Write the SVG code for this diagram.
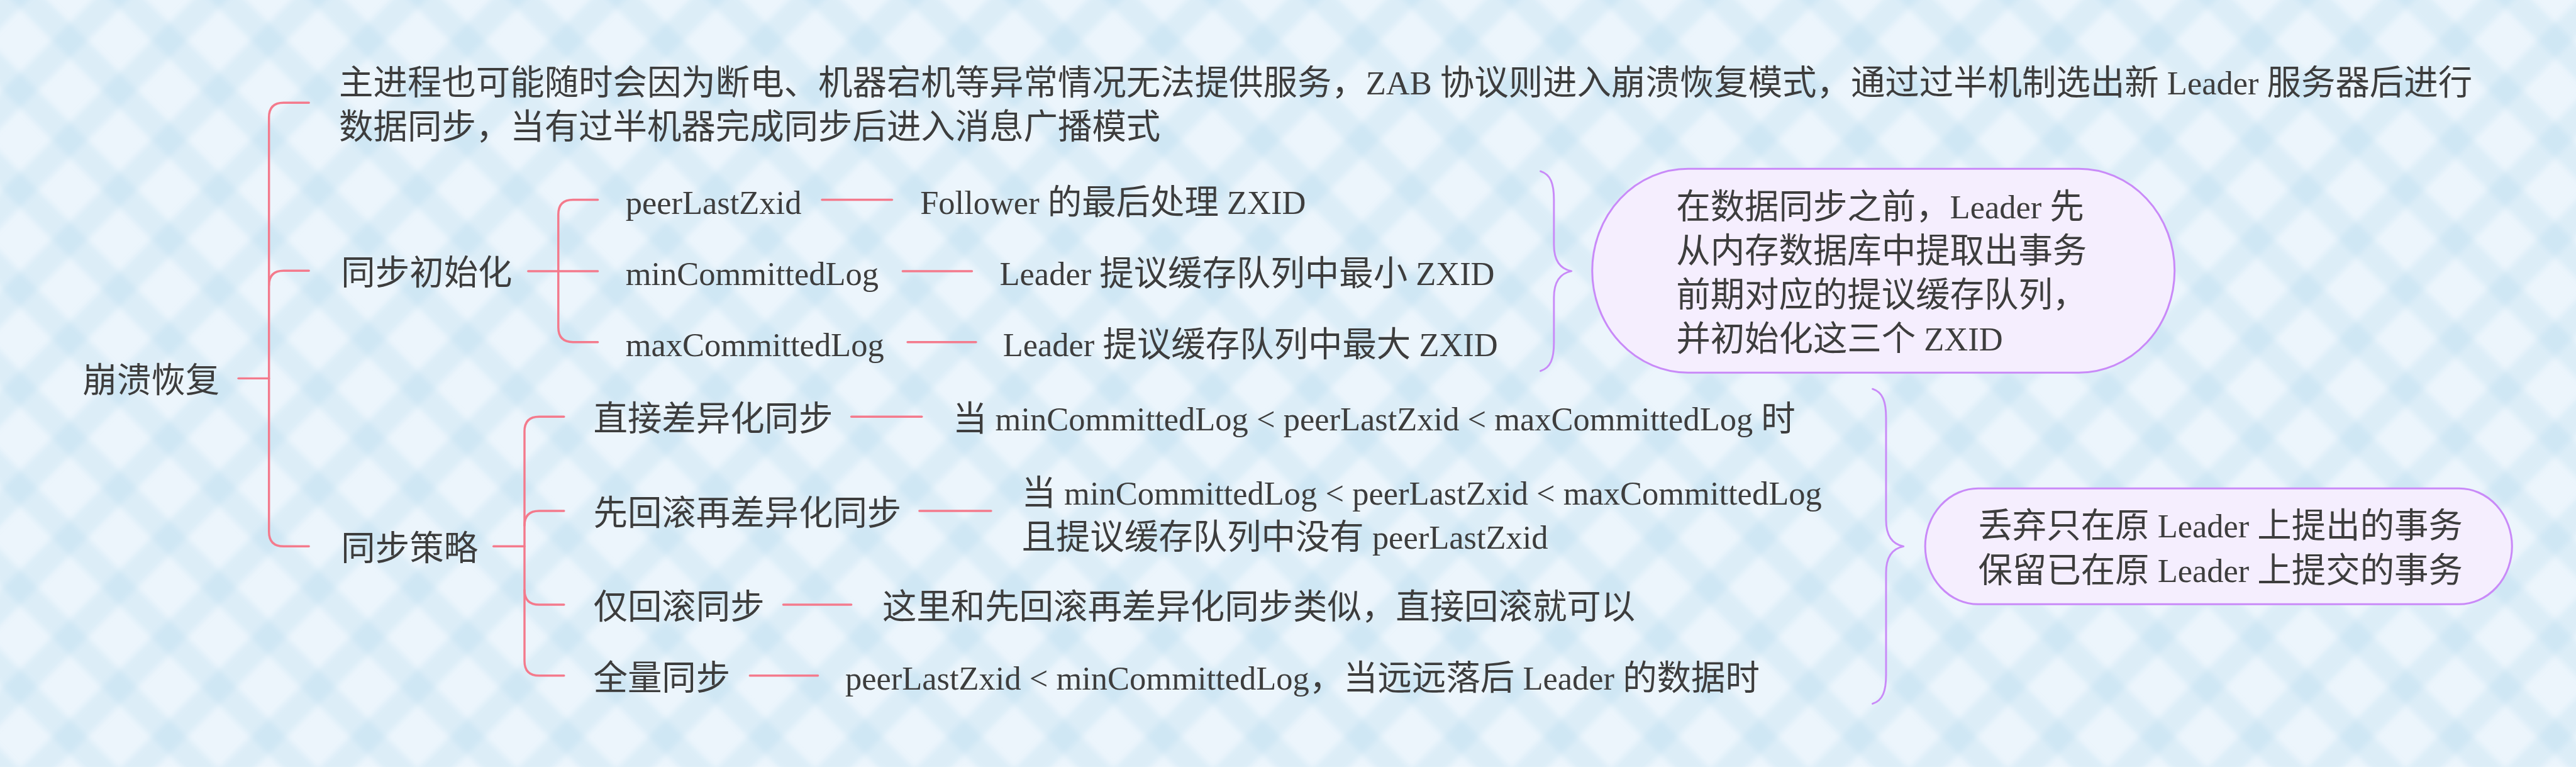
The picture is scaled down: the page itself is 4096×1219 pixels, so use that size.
<svg xmlns="http://www.w3.org/2000/svg" width="4096" height="1219" viewBox="0 0 4096 1219">
<style>
.t { font-family: "Liberation Serif", "Noto Sans CJK SC", serif; font-size: 84px; fill: #3d3d3d; }
.l { font-size: 81px; }
.br { fill: none; stroke: #F47A8C; stroke-width: 5.3; stroke-linecap: round; stroke-linejoin: round; }
.pu { fill: none; stroke: #C98AF8; stroke-width: 4.5; stroke-linecap: round; stroke-linejoin: round; }
.box { fill: #F5EEFE; stroke: #C98AF8; stroke-width: 4.7; }
</style>
<defs>
<pattern id="plaid" patternUnits="userSpaceOnUse" width="172.5" height="172.5" patternTransform="translate(49,1441) rotate(45) translate(-86.25,-86.25)">
<rect x="55.75" y="0" width="61" height="172.5" fill="#A0D2EB" fill-opacity="0.21"/>
<rect x="0" y="55.75" width="172.5" height="61" fill="#A0D2EB" fill-opacity="0.21"/>
</pattern>
<filter id="soft" x="-0.05" y="-0.05" width="1.1" height="1.1"><feGaussianBlur stdDeviation="7"/></filter>
</defs>
<g transform="scale(0.648)">
<g id="background">
<rect x="0" y="0" width="6322" height="1881" fill="#ECF5FC"/>
<rect x="-100" y="-100" width="6522" height="2081" fill="url(#plaid)" filter="url(#soft)"/>
</g>
<g id="connectors">
<path class="br" d="M585,928 H660"/>
<path class="br" d="M758,252 H696 Q660,252 660,288 V1304 Q660,1340 696,1340 H758"/>
<path class="br" d="M660,700 Q660,664 696,664 H758"/>
<path class="br" d="M1296,665 H1467"/>
<path class="br" d="M1467,490 H1406 Q1370,490 1370,526 V803 Q1370,839 1406,839 H1467"/>
<path class="br" d="M1211,1340 H1287"/>
<path class="br" d="M1384,1022 H1323 Q1287,1022 1287,1058 V1621 Q1287,1657 1323,1657 H1384"/>
<path class="br" d="M1287,1289 Q1287,1253 1323,1253 H1384"/>
<path class="br" d="M1287,1447 Q1287,1483 1323,1483 H1384"/>
<path class="br" d="M2017,490 H2189"/>
<path class="br" d="M2215,665 H2385"/>
<path class="br" d="M2227,839 H2395"/>
<path class="br" d="M2089,1022 H2262"/>
<path class="br" d="M2256,1253 H2432"/>
<path class="br" d="M1922,1483 H2089"/>
<path class="br" d="M1840,1657 H2007"/>
<path class="pu" d="M3780,420 C3805,428 3813,450 3813,490 L3813,600 C3813,640 3830,660 3856,665 C3830,670 3813,690 3813,730 L3813,840 C3813,880 3805,902 3780,910"/>
<path class="pu" d="M4595,954 C4620,962 4628,985 4628,1025 L4628,1275 C4628,1315 4645,1335 4671,1340 C4645,1345 4628,1365 4628,1405 L4628,1655 C4628,1695 4620,1718 4595,1726"/>
</g>
<g id="root"><text class="t" x="203" y="962">崩溃恢复</text></g>
<g id="main-desc">
<text class="t" x="832" y="232">主进程也可能随时会因为断电、机器宕机等异常情况无法提供服务，<tspan class="l">ZAB </tspan>协议则进入崩溃恢复模式，通过过半机制选出新<tspan class="l"> Leader </tspan>服务器后进行</text>
<text class="t" x="832" y="340">数据同步，当有过半机器完成同步后进入消息广播模式</text>
</g>
<g id="sync-init"><text class="t" x="837" y="698">同步初始化</text></g>
<g id="peer-last"><text class="t l" x="1535" y="524">peerLastZxid</text></g>
<g id="peer-last-desc"><text class="t" x="2258" y="524"><tspan class="l">Follower </tspan>的最后处理<tspan class="l"> ZXID</tspan></text></g>
<g id="min-log"><text class="t l" x="1535" y="699">minCommittedLog</text></g>
<g id="min-log-desc"><text class="t" x="2453" y="699"><tspan class="l">Leader </tspan>提议缓存队列中最小<tspan class="l"> ZXID</tspan></text></g>
<g id="max-log"><text class="t l" x="1535" y="873">maxCommittedLog</text></g>
<g id="max-log-desc"><text class="t" x="2461" y="873"><tspan class="l">Leader </tspan>提议缓存队列中最大<tspan class="l"> ZXID</tspan></text></g>
<g id="summary-init">
<rect class="box" x="3907" y="414" width="1429" height="500" rx="235" ry="250"/>
<text class="t" x="4113" y="536">在数据同步之前，<tspan class="l">Leader </tspan>先</text>
<text class="t" x="4113" y="644">从内存数据库中提取出事务</text>
<text class="t" x="4113" y="752">前期对应的提议缓存队列，</text>
<text class="t" x="4113" y="860">并初始化这三个<tspan class="l"> ZXID</tspan></text>
</g>
<g id="sync-strategy"><text class="t" x="837" y="1374">同步策略</text></g>
<g id="diff-sync"><text class="t" x="1456" y="1056">直接差异化同步</text></g>
<g id="diff-sync-desc"><text class="t" x="2338" y="1056">当<tspan class="l"> minCommittedLog &lt; peerLastZxid &lt; maxCommittedLog </tspan>时</text></g>
<g id="rollback-diff"><text class="t" x="1456" y="1287">先回滚再差异化同步</text></g>
<g id="rollback-diff-desc">
<text class="t" x="2507" y="1238">当<tspan class="l"> minCommittedLog &lt; peerLastZxid &lt; maxCommittedLog</tspan></text>
<text class="t" x="2507" y="1346">且提议缓存队列中没有<tspan class="l"> peerLastZxid</tspan></text>
</g>
<g id="rollback-only"><text class="t" x="1456" y="1517">仅回滚同步</text></g>
<g id="rollback-only-desc"><text class="t" x="2165" y="1517">这里和先回滚再差异化同步类似，直接回滚就可以</text></g>
<g id="full-sync"><text class="t" x="1456" y="1691">全量同步</text></g>
<g id="full-sync-desc"><text class="t" x="2074" y="1691"><tspan class="l">peerLastZxid &lt; minCommittedLog</tspan>，当远远落后<tspan class="l"> Leader </tspan>的数据时</text></g>
<g id="summary-strategy">
<rect class="box" x="4724" y="1198" width="1440" height="284" rx="130" ry="142"/>
<text class="t" x="4854" y="1318">丢弃只在原<tspan class="l"> Leader </tspan>上提出的事务</text>
<text class="t" x="4854" y="1427">保留已在原<tspan class="l"> Leader </tspan>上提交的事务</text>
</g>
</g>
</svg>
